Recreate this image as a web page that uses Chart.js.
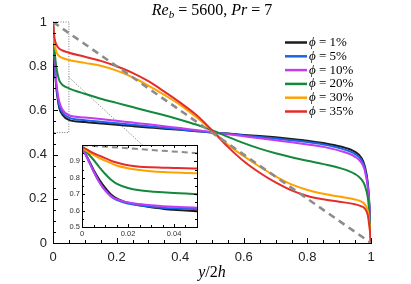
<!DOCTYPE html>
<html><head><meta charset="utf-8">
<script src="https://cdn.jsdelivr.net/npm/chart.js@4.4.0/dist/chart.umd.min.js"></script>
<style>
html,body{margin:0;padding:0;background:#fff;}
#wrap{position:relative;width:411px;height:284px;overflow:hidden;}
#main{position:absolute;left:0;top:0;}
#inset{position:absolute;left:62px;top:136px;}
</style></head><body>
<div id="wrap"><canvas id="main" width="411" height="284"></canvas><canvas id="inset" width="142" height="106"></canvas></div>
<script>
// ---------- DATA ----------
const seriesNames = ['1%', '5%', '10%', '20%', '30%', '35%'];
const seriesColors = ['#1c1c1c', '#1a63ea', '#c23cf2', '#14893d', '#ffa200', '#e42d2b'];

const xMain = [0, 0.002, 0.005, 0.01, 0.015, 0.02, 0.03, 0.05, 0.1, 0.15, 0.2, 0.25, 0.3, 0.35, 0.4, 0.45, 0.5, 0.55, 0.6, 0.65, 0.7, 0.75, 0.8, 0.85, 0.9, 0.95, 0.97, 0.98, 0.99, 0.995, 0.998, 1];
const phi1  = [1.0, 0.92, 0.82, 0.71, 0.65, 0.61, 0.58, 0.557, 0.547, 0.541, 0.535, 0.529, 0.523, 0.517, 0.512, 0.506, 0.5, 0.495, 0.489, 0.484, 0.478, 0.471, 0.463, 0.452, 0.438, 0.412, 0.385, 0.35, 0.27, 0.17, 0.07, 0.0];
const phi5  = [1.0, 0.925, 0.83, 0.72, 0.66, 0.622, 0.59, 0.567, 0.556, 0.549, 0.542, 0.535, 0.528, 0.521, 0.514, 0.507, 0.5, 0.494, 0.487, 0.48, 0.473, 0.465, 0.457, 0.446, 0.43, 0.402, 0.375, 0.34, 0.26, 0.165, 0.068, 0.0];
const phi10 = [1.0, 0.93, 0.84, 0.735, 0.675, 0.638, 0.603, 0.578, 0.568, 0.561, 0.553, 0.545, 0.537, 0.528, 0.52, 0.511, 0.502, 0.492, 0.483, 0.474, 0.465, 0.456, 0.446, 0.435, 0.418, 0.39, 0.363, 0.33, 0.25, 0.16, 0.065, 0.0];
const phi20 = [1.0, 0.94, 0.87, 0.8, 0.76, 0.735, 0.715, 0.70, 0.675, 0.653, 0.634, 0.615, 0.596, 0.578, 0.558, 0.536, 0.51, 0.48, 0.452, 0.427, 0.406, 0.388, 0.372, 0.357, 0.34, 0.312, 0.288, 0.262, 0.205, 0.13, 0.06, 0.0];
const phi30 = [1.0, 0.95, 0.9, 0.868, 0.853, 0.845, 0.837, 0.828, 0.815, 0.802, 0.78, 0.75, 0.712, 0.67, 0.625, 0.57, 0.51, 0.445, 0.393, 0.345, 0.302, 0.265, 0.24, 0.223, 0.21, 0.197, 0.187, 0.176, 0.145, 0.09, 0.04, 0.0];
const phi35 = [1.0, 0.96, 0.925, 0.9, 0.887, 0.879, 0.871, 0.861, 0.843, 0.824, 0.8, 0.77, 0.732, 0.685, 0.635, 0.58, 0.51, 0.435, 0.37, 0.318, 0.274, 0.238, 0.213, 0.198, 0.187, 0.175, 0.166, 0.157, 0.125, 0.075, 0.035, 0.0];
const mainSeries = [phi1, phi5, phi10, phi20, phi30, phi35];

// laminar-like reference (dashed) line
const refX = [0, 1];
const refY = [1, 0];

// zoom-box marker and connector (data coordinates)
const boxX = [0, 0.05, 0.05, 0];
const boxY = [1, 1, 0.5, 0.5];
const connX = [0.05, 0.283];
const connY = [0.75, 0.441];

// inset (near-wall zoom)
const xInset = [0, 0.0025, 0.005, 0.0075, 0.01, 0.0125, 0.015, 0.02, 0.025, 0.03, 0.035, 0.04, 0.045, 0.05];
const in1  = [0.985, 0.92, 0.85, 0.79, 0.74, 0.70, 0.675, 0.648, 0.632, 0.62, 0.612, 0.605, 0.60, 0.596];
const in5  = [0.985, 0.915, 0.84, 0.775, 0.725, 0.688, 0.665, 0.643, 0.632, 0.624, 0.618, 0.614, 0.611, 0.609];
const in10 = [0.985, 0.915, 0.84, 0.775, 0.725, 0.69, 0.67, 0.65, 0.64, 0.632, 0.627, 0.623, 0.62, 0.618];
const in20 = [0.985, 0.95, 0.91, 0.865, 0.825, 0.79, 0.765, 0.738, 0.724, 0.717, 0.712, 0.708, 0.704, 0.70];
const in30 = [0.985, 0.96, 0.94, 0.92, 0.905, 0.89, 0.875, 0.858, 0.848, 0.84, 0.835, 0.832, 0.83, 0.828];
const in35 = [0.99, 0.97, 0.95, 0.935, 0.92, 0.905, 0.893, 0.877, 0.868, 0.864, 0.862, 0.86, 0.858, 0.857];
const insetSeries = [in1, in5, in10, in20, in30, in35];
const insetRefX = [0, 0.05];
const insetRefY = [1, 0.95];

// tick labels
const mainTickValues = [0, 0.2, 0.4, 0.6, 0.8, 1];
const mainTickLabels = ['0', '0.2', '0.4', '0.6', '0.8', '1'];
const insetXTickValues = [0, 0.02, 0.04];
const insetXTickLabels = ['0', '0.02', '0.04'];
const insetYTickValues = [0.5, 0.6, 0.7, 0.8, 0.9];
const insetYTickLabels = ['0.5', '0.6', '0.7', '0.8', '0.9'];

// ---------- HELPERS ----------
const SERIF = "'Liberation Serif','DejaVu Serif',serif";
const SANS = "'Liberation Sans','DejaVu Sans',sans-serif";
const pts = (xs, ys) => xs.map((x, i) => ({x, y: ys[i]}));

function drawRuns(ctx, runs, cx, baseY) {
  let total = 0;
  runs.forEach(r => { ctx.font = r.f; total += ctx.measureText(r.t).width; });
  let x = cx - total / 2;
  ctx.textBaseline = 'alphabetic'; ctx.textAlign = 'left';
  runs.forEach(r => { ctx.font = r.f; ctx.fillText(r.t, x, baseY + (r.dy || 0)); x += ctx.measureText(r.t).width; });
}

function drawTicks(chart, scaleId, from, to, step, majors, side, majLen, minLen) {
  const s = chart.scales[scaleId], a = chart.chartArea, ctx = chart.ctx;
  ctx.save(); ctx.strokeStyle = '#000'; ctx.lineWidth = 1;
  const n = Math.round((to - from) / step);
  for (let i = 0; i <= n; i++) {
    const v = from + i * step;
    const isMaj = majors.some(m => Math.abs(m - v) < 1e-9);
    const len = isMaj ? majLen : minLen;
    const p = Math.round(s.getPixelForValue(v)) + 0.5;
    ctx.beginPath();
    if (side === 'bottom') { ctx.moveTo(p, a.bottom); ctx.lineTo(p, a.bottom - len); }
    else if (side === 'top') { ctx.moveTo(p, a.top); ctx.lineTo(p, a.top + len); }
    else if (side === 'left') { ctx.moveTo(a.left, p); ctx.lineTo(a.left + len, p); }
    else { ctx.moveTo(a.right, p); ctx.lineTo(a.right - len, p); }
    ctx.stroke();
  }
  ctx.restore();
}

// ---------- MAIN CHART ----------
const mainDatasets = mainSeries.map((ys, i) => ({
  data: pts(xMain, ys), borderColor: seriesColors[i], borderWidth: 2,
  pointRadius: 0, fill: false, cubicInterpolationMode: 'monotone', order: 6 - i
}));
mainDatasets.push({data: pts(refX, refY), borderColor: '#8c8c8c', borderWidth: 2.6, borderDash: [7, 5], pointRadius: 0, fill: false, order: 0});
mainDatasets.push({data: pts(boxX, boxY), borderColor: '#777', borderWidth: 1, borderDash: [1, 1.5], pointRadius: 0, fill: false, order: 8, clip: 4});
mainDatasets.push({data: pts(connX, connY), borderColor: '#777', borderWidth: 1, borderDash: [1, 1.5], pointRadius: 0, fill: false, order: 8});

const mainDecor = {
  id: 'mainDecor',
  afterDraw(chart) {
    const ctx = chart.ctx;
    drawTicks(chart, 'x', 0, 1, 0.05, mainTickValues, 'bottom', 5, 3);
    drawTicks(chart, 'y', 0, 1, 0.05, mainTickValues, 'left', 5, 3);
    ctx.save(); ctx.fillStyle = '#000';
    drawRuns(ctx, [
      {t: 'Re', f: 'italic 16px ' + SERIF},
      {t: 'b', f: 'italic 11px ' + SERIF, dy: 3},
      {t: ' = 5600, ', f: '16px ' + SERIF},
      {t: 'Pr', f: 'italic 16px ' + SERIF},
      {t: ' = 7', f: '16px ' + SERIF}
    ], 212, 15);
    drawRuns(ctx, [
      {t: 'y', f: 'italic 16px ' + SERIF},
      {t: '/2', f: '16px ' + SERIF},
      {t: 'h', f: 'italic 16px ' + SERIF}
    ], 212, 277);
    // legend
    seriesNames.forEach((nm, i) => {
      const y = 42.5 + i * 13.8;
      ctx.strokeStyle = seriesColors[i]; ctx.lineWidth = 2.5;
      ctx.beginPath(); ctx.moveTo(285, y); ctx.lineTo(307, y); ctx.stroke();
      ctx.textBaseline = 'middle'; ctx.textAlign = 'left';
      ctx.font = 'italic 13px ' + SERIF; ctx.fillText('ϕ', 309, y);
      const w = ctx.measureText('ϕ').width;
      ctx.font = '13px ' + SERIF; ctx.fillText(' = ' + nm, 309 + w, y);
    });
    ctx.restore();
  }
};

new Chart(document.getElementById('main'), {
  type: 'line',
  data: {datasets: mainDatasets},
  options: {
    responsive: false, animation: false, events: [],
    layout: {padding: {top: 22, right: 40, left: 0, bottom: 0}},
    plugins: {legend: {display: false}, tooltip: {enabled: false}, title: {display: false}},
    scales: {
      x: {
        type: 'linear', min: 0, max: 1,
        afterFit: s => { s.height = 41; },
        afterBuildTicks: s => { s.ticks = mainTickValues.map(v => ({value: v})); },
        ticks: {padding: 7, color: '#222', font: {family: SANS, size: 13}, callback: (v, i) => mainTickLabels[i], maxRotation: 0, autoSkip: false},
        grid: {drawOnChartArea: false, drawTicks: false},
        border: {display: true, color: '#000', width: 1}
      },
      y: {
        type: 'linear', min: 0, max: 1,
        afterFit: s => { s.width = 53; },
        afterBuildTicks: s => { s.ticks = mainTickValues.map(v => ({value: v})); },
        ticks: {padding: 6, color: '#222', font: {family: SANS, size: 13}, callback: (v, i) => mainTickLabels[i], autoSkip: false},
        grid: {drawOnChartArea: false, drawTicks: false},
        border: {display: true, color: '#000', width: 1}
      }
    }
  },
  plugins: [mainDecor]
});

// ---------- INSET ----------
const insetDatasets = insetSeries.map((ys, i) => ({
  data: pts(xInset, ys), borderColor: seriesColors[i], borderWidth: 2,
  pointRadius: 0, fill: false, cubicInterpolationMode: 'monotone', order: 6 - i
}));
insetDatasets.push({data: pts(insetRefX, insetRefY), borderColor: '#8c8c8c', borderWidth: 2, borderDash: [6, 4], pointRadius: 0, fill: false, order: 0});

const insetDecor = {
  id: 'insetDecor',
  beforeDraw(chart) {
    const a = chart.chartArea, ctx = chart.ctx;
    ctx.save(); ctx.fillStyle = '#fff'; ctx.fillRect(a.left, a.top, a.right - a.left, a.bottom - a.top); ctx.restore();
  },
  afterDraw(chart) {
    const a = chart.chartArea, ctx = chart.ctx;
    ctx.save(); ctx.strokeStyle = '#000'; ctx.lineWidth = 1;
    ctx.strokeRect(Math.round(a.left) + 0.5, Math.round(a.top) + 0.5, Math.round(a.right - a.left), Math.round(a.bottom - a.top));
    ctx.restore();
    drawTicks(chart, 'x', 0, 0.05, 0.005, insetXTickValues, 'bottom', 3, 2);
    drawTicks(chart, 'x', 0, 0.05, 0.005, insetXTickValues, 'top', 3, 2);
    drawTicks(chart, 'y', 0.5, 1, 0.05, insetYTickValues, 'left', 3, 2);
    drawTicks(chart, 'y', 0.5, 1, 0.05, insetYTickValues, 'right', 3, 2);
  }
};

new Chart(document.getElementById('inset'), {
  type: 'line',
  data: {datasets: insetDatasets},
  options: {
    responsive: false, animation: false, events: [],
    layout: {padding: {top: 9, right: 7, left: 0, bottom: 0}},
    plugins: {legend: {display: false}, tooltip: {enabled: false}},
    scales: {
      x: {
        type: 'linear', min: 0, max: 0.05,
        afterFit: s => { s.height = 15; },
        afterBuildTicks: s => { s.ticks = insetXTickValues.map(v => ({value: v})); },
        ticks: {padding: 2, color: '#333', font: {family: SANS, size: 7.5}, callback: (v, i) => insetXTickLabels[i], maxRotation: 0, autoSkip: false},
        grid: {drawOnChartArea: false, drawTicks: false},
        border: {display: false}
      },
      y: {
        type: 'linear', min: 0.5, max: 1,
        afterFit: s => { s.width = 20; },
        afterBuildTicks: s => { s.ticks = insetYTickValues.map(v => ({value: v})); },
        ticks: {padding: 2, color: '#333', font: {family: SANS, size: 7.5}, callback: (v, i) => insetYTickLabels[i], autoSkip: false},
        grid: {drawOnChartArea: false, drawTicks: false},
        border: {display: false}
      }
    }
  },
  plugins: [insetDecor]
});
</script>
</body></html>
